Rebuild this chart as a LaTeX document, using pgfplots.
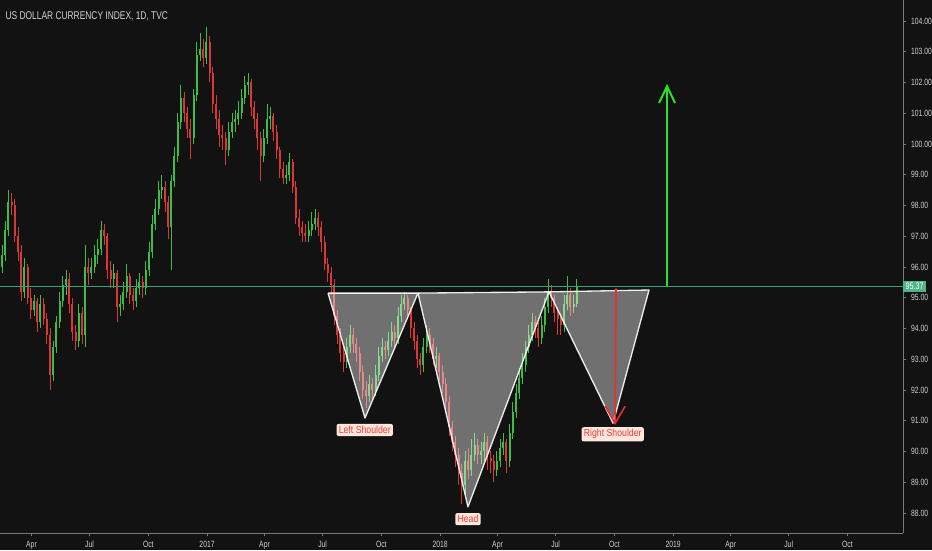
\documentclass[border=0pt]{standalone}
\usepackage{fontspec}
\setmainfont{Liberation Sans}
\newfontfamily\nfont[FakeStretch=0.75]{Liberation Sans}
\newfontfamily\lfont[FakeStretch=0.85]{Liberation Sans}
\usepackage{pgfplots}
\usepackage{pgfplotstable}
\pgfplotsset{compat=1.18}
\usetikzlibrary{arrows.meta}

\definecolor{bg}{RGB}{18,18,18}
\definecolor{upc}{RGB}{60,190,70}
\definecolor{dnc}{RGB}{220,55,55}
\definecolor{axc}{RGB}{120,120,120}
\definecolor{txc}{RGB}{210,210,210}
\definecolor{lastc}{RGB}{62,160,120}
\definecolor{tagc}{RGB}{80,180,135}
\definecolor{arrg}{RGB}{40,225,40}
\definecolor{arrr}{RGB}{235,45,45}
\definecolor{tagbg}{RGB}{253,230,218}
\definecolor{tagtx}{RGB}{235,60,60}

% day = days since 2016-01-01, one candle every 5 days
\pgfplotstableread{
d o h l c
45 96.0 96.7 95.8 96.4
50 96.4 97.5 96.2 97.2
55 97.2 98.5 97.0 98.1
60 98.1 98.4 97.7 98.0
65 98.0 98.2 96.8 97.0
70 97.0 97.3 96.2 96.5
75 96.5 96.7 94.9 95.2
80 95.2 96.3 95.0 96.0
85 96.0 96.1 94.8 95.0
90 95.0 95.3 94.3 94.6
95 94.6 95.1 94.4 94.9
100 94.9 95.0 93.9 94.2
105 94.2 95.1 94.0 94.8
110 94.8 95.0 94.1 94.3
115 94.3 94.5 93.5 93.8
120 93.8 94.0 92.0 92.5
125 92.5 93.6 92.3 93.4
130 93.4 94.4 93.2 94.2
135 94.2 95.2 94.0 94.9
140 94.9 95.7 94.7 95.4
145 95.4 95.9 95.1 95.6
150 95.6 95.8 94.5 94.8
155 94.8 95.0 93.6 93.9
160 93.9 94.1 93.3 93.6
165 93.6 94.8 93.4 94.5
170 94.5 94.7 93.5 93.8
175 93.8 96.7 93.4 96.0
180 96.0 96.3 95.4 95.8
185 95.8 96.3 95.6 96.0
190 96.0 96.7 95.8 96.4
195 96.4 96.9 96.1 96.6
200 96.6 97.5 96.4 97.2
205 97.2 97.4 96.7 97.0
210 97.0 97.1 95.6 95.9
215 95.9 96.2 95.3 95.6
220 95.6 96.1 95.3 95.8
225 95.8 95.9 94.2 94.7
230 94.7 95.1 94.4 94.8
235 94.8 95.5 94.6 95.2
240 95.2 96.1 95.0 95.7
245 95.7 95.8 94.8 95.1
250 95.1 95.3 94.6 94.9
255 94.9 95.6 94.7 95.3
260 95.3 95.8 95.1 95.5
265 95.5 95.7 95.0 95.3
270 95.3 96.2 95.1 95.9
275 95.9 96.8 95.7 96.5
280 96.5 97.7 96.3 97.4
285 97.4 98.2 97.2 97.9
290 97.9 98.8 97.7 98.5
295 98.5 99.0 98.2 98.6
300 98.6 98.8 97.8 98.1
305 98.1 98.3 96.9 97.3
310 97.3 99.0 95.9 98.8
315 98.8 99.9 98.6 99.6
320 99.6 101.0 99.4 100.7
325 100.7 101.9 100.5 101.5
330 101.5 101.7 100.7 101.0
335 101.0 101.2 100.2 100.5
340 100.5 100.8 99.5 100.2
345 100.2 101.8 100.0 101.6
350 101.6 103.3 101.4 102.9
355 102.9 103.6 102.7 103.1
360 103.1 103.4 102.5 102.8
365 102.8 103.8 102.6 103.3
370 103.3 103.5 102.0 102.3
375 102.3 102.5 101.0 101.3
380 101.3 101.6 100.5 100.8
385 100.8 101.1 99.9 100.3
390 100.3 100.6 99.8 100.2
395 100.2 100.4 99.3 99.8
400 99.8 100.7 99.6 100.4
405 100.4 101.0 100.2 100.7
410 100.7 101.1 100.4 100.8
415 100.8 101.4 100.6 101.0
420 101.0 101.8 100.8 101.5
425 101.5 102.2 101.3 101.9
430 101.9 102.3 101.6 102.0
435 102.0 102.1 100.9 101.2
440 101.2 101.4 100.5 100.8
445 100.8 101.0 99.8 100.2
450 100.2 100.4 98.8 99.6
455 99.6 100.5 99.4 100.2
460 100.2 101.3 100.0 100.8
465 100.8 101.2 100.5 100.9
470 100.9 101.0 100.1 100.4
475 100.4 100.6 99.5 99.8
480 99.8 99.9 98.9 99.2
485 99.2 99.4 98.7 98.9
490 98.9 99.3 98.7 99.0
495 99.0 99.7 98.8 99.4
500 99.4 99.5 98.4 98.6
505 98.6 98.8 97.4 97.6
510 97.6 97.9 97.0 97.3
515 97.3 97.5 96.8 97.1
520 97.1 97.4 96.8 97.0
525 97.0 97.5 96.8 97.2
530 97.2 97.8 97.0 97.4
535 97.4 97.9 97.2 97.6
540 97.6 97.8 97.0 97.3
545 97.3 97.5 96.5 96.8
550 96.8 97.0 95.9 96.1
555 96.1 96.3 95.5 95.8
560 95.8 96.0 95.1 95.4
565 95.4 95.6 94.1 94.4
570 94.4 94.6 93.5 93.8
575 93.8 94.0 92.9 93.2
580 93.2 93.4 92.6 92.9
585 92.9 93.7 92.7 93.4
590 93.4 94.1 93.2 93.8
595 93.8 94.0 93.2 93.5
600 93.5 93.7 92.9 93.2
605 93.2 93.4 92.3 92.6
610 92.6 92.8 91.7 92.0
615 92.0 92.3 91.4 91.8
620 91.8 92.5 91.6 92.2
625 92.2 92.4 91.7 92.0
630 92.0 92.8 91.8 92.5
635 92.5 93.4 92.3 93.1
640 93.1 93.7 92.9 93.4
645 93.4 93.6 93.0 93.3
650 93.3 93.9 93.1 93.6
655 93.6 94.2 93.4 93.9
660 93.9 94.1 93.4 93.7
665 93.7 94.7 93.5 94.4
670 94.4 95.1 94.2 94.8
675 94.8 95.2 94.6 95.0
680 95.0 95.1 94.3 94.6
685 94.6 94.7 93.7 94.0
690 94.0 94.2 93.3 93.6
695 93.6 93.8 92.7 93.0
700 93.0 93.2 92.5 92.8
705 92.8 93.7 92.6 93.4
710 93.4 94.1 93.2 93.8
715 93.8 94.0 93.2 93.5
720 93.5 93.7 92.8 93.0
725 93.0 93.4 92.7 93.1
730 93.1 93.2 92.3 92.6
735 92.6 92.8 91.9 92.2
740 92.2 92.4 91.3 91.6
745 91.6 91.8 90.5 90.8
750 90.8 91.0 90.0 90.3
755 90.3 90.5 89.5 89.9
760 89.9 90.1 88.9 89.3
765 89.3 89.6 88.3 88.9
770 88.9 90.0 88.6 89.7
775 89.7 90.1 89.1 89.4
780 89.4 90.4 89.2 89.9
785 89.9 90.6 89.7 90.2
790 90.2 90.4 89.6 89.9
795 89.9 90.3 89.6 90.0
800 90.0 90.6 89.7 90.3
805 90.3 90.5 89.4 89.8
810 89.8 90.0 89.3 89.7
815 89.7 89.9 89.0 89.4
820 89.4 90.0 89.2 89.7
825 89.7 90.4 89.5 90.1
830 90.1 90.6 89.9 90.3
835 90.3 90.4 89.3 89.7
840 89.7 90.9 89.5 90.6
845 90.6 91.6 90.4 91.3
850 91.3 92.2 91.1 91.9
855 91.9 92.7 91.7 92.4
860 92.4 93.2 92.2 92.8
865 92.8 93.6 92.6 93.4
870 93.4 94.1 93.2 93.8
875 93.8 94.5 93.6 94.2
880 94.2 94.4 93.7 94.0
885 94.0 94.2 93.4 93.7
890 93.7 94.4 93.5 94.1
895 94.1 95.0 93.9 94.7
900 94.7 95.6 94.5 95.2
905 95.2 95.4 94.7 95.0
910 95.0 95.1 94.2 94.5
915 94.5 94.7 93.8 94.3
920 94.3 94.5 93.8 94.1
925 94.1 95.1 93.9 94.8
930 94.8 95.7 94.6 95.1
935 95.1 95.3 94.4 94.7
940 94.7 95.1 94.5 94.8
945 94.8 95.6 94.7 95.37
}\dxy

\pgfplotsset{
  wick/.style={draw=none, mark=none, forget plot,
    error bars/y dir=plus, error bars/y explicit, error bars/error mark=none,
    error bars/error bar style={line width=0.6pt, draw=#1}},
  body/.style={draw=none, mark=none, forget plot,
    error bars/y dir=plus, error bars/y explicit, error bars/error mark=none,
    error bars/error bar style={line width=1.5pt, draw=#1}},
  tri/.style={fill=white, fill opacity=0.4, draw=white, draw opacity=0.9,
    line width=1pt, line join=round, forget plot},
}
\tikzset{
  tag/.style={fill=tagbg, text=tagtx, rounded corners=1.5pt, inner sep=1.7pt,
    font=\lfont\fontsize{7.7}{8}\selectfont},
}

\begin{document}
\begin{tikzpicture}
\fill[bg, use as bounding box] (0,-12.75pt) rectangle (699pt,399.75pt);
\begin{axis}[
    at={(0,0)}, anchor=south west,
    scale only axis, width=677.25pt, height=399.75pt,
    xmin=41.7, xmax=1456.1,
    ymin=87.35, ymax=104.68,
    axis x line*=bottom, axis y line*=right,
    axis line style={draw=axc, line width=0.6pt},
    xtick={91,182,274,366,456,547,639,731,821,912,1004,1096,1186,1277,1369},
    xticklabels={Apr,Jul,Oct,2017,Apr,Jul,Oct,2018,Apr,Jul,Oct,2019,Apr,Jul,Oct},
    ytick={88,89,...,104},
    y tick label style={/pgf/number format/fixed,
      /pgf/number format/fixed zerofill,
      /pgf/number format/precision=2},
    /pgf/number format/assume math mode=true,
    tick label style={font=\nfont\fontsize{6.8}{7}\selectfont, text=txc},
    tick style={draw=axc, line width=0.5pt},
    major tick length=2.5pt, tick align=outside,
    clip=false,
]
% candles: wicks low->high, bodies open<->close
\addplot[wick=upc, restrict expr to domain={\thisrow{c}-\thisrow{o}}{0:50}]
  table[x=d, y=l, y error expr=\thisrow{h}-\thisrow{l}] {\dxy};
\addplot[wick=dnc, restrict expr to domain={\thisrow{c}-\thisrow{o}}{-50:-0.001}]
  table[x=d, y=l, y error expr=\thisrow{h}-\thisrow{l}] {\dxy};
\addplot[body=upc, restrict expr to domain={\thisrow{c}-\thisrow{o}}{0:50}]
  table[x=d, y=o, y error expr=\thisrow{c}-\thisrow{o}] {\dxy};
\addplot[body=dnc, restrict expr to domain={\thisrow{c}-\thisrow{o}}{-50:-0.001}]
  table[x=d, y=c, y error expr=\thisrow{o}-\thisrow{c}] {\dxy};

% last price line
\addplot[lastc, line width=0.6pt, forget plot] coordinates {(41.7,95.37) (1456.1,95.37)};

% head and shoulders
\addplot[tri] coordinates {(555.5,95.15) (613.4,91.09) (696.4,95.15) (555.5,95.15)};
\addplot[tri] coordinates {(696.4,95.15) (774.7,88.20) (901.6,95.19) (696.4,95.15)};
\addplot[tri] coordinates {(901.6,95.19) (1001.9,90.92) (1058.3,95.25) (901.6,95.19)};

% target arrows
\addplot[arrr, line width=1.2pt, -{Straight Barb[length=13pt,width=15pt]}, forget plot]
  coordinates {(1006.6,95.30) (1005.0,90.86)};
\addplot[arrg, line width=1.5pt, -{Straight Barb[length=12.5pt,width=12pt]}, forget plot]
  coordinates {(1086.5,95.37) (1086.5,101.95)};

\node[tag] at (axis cs:613,90.70) {Left Shoulder};
\node[tag] at (axis cs:774.7,87.80) {Head};
\node[tag] at (axis cs:1001.4,90.56) {Right Shoulder};

\node[anchor=west, fill=tagc, text=white, inner sep=1.8pt,
  font=\nfont\fontsize{7.2}{7.5}\selectfont] at (axis cs:1456.1,95.37) {95.37};
\node[anchor=north west, text=txc, inner sep=0pt,
  font=\nfont\fontsize{8.4}{9}\selectfont] at (rel axis cs:0,1) [xshift=4pt, yshift=-8.5pt]
  {US DOLLAR CURRENCY INDEX, 1D, TVC};
\end{axis}
\end{tikzpicture}
\end{document}
